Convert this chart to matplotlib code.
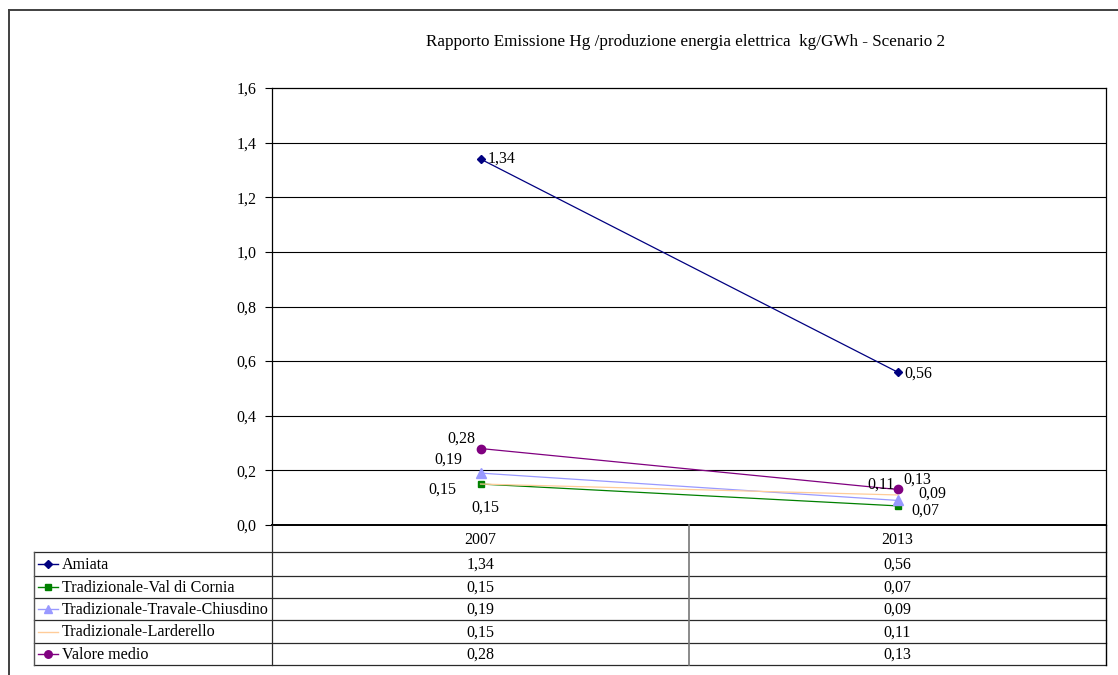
import numpy as np
import matplotlib
matplotlib.use("Agg")
import matplotlib.pyplot as plt
from matplotlib.lines import Line2D

plt.rcParams['font.family'] = ['Liberation Serif', 'DejaVu Serif']

# ---- data ----
title = "Rapporto Emissione Hg /produzione energia elettrica  kg/GWh - Scenario 2"
years = ["2007", "2013"]
series_names = [
    "Amiata",
    "Tradizionale-Val di Cornia",
    "Tradizionale-Travale-Chiusdino",
    "Tradizionale-Larderello",
    "Valore medio",
]
amiata = [1.34, 0.56]
val_di_cornia = [0.15, 0.07]
travale_chiusdino = [0.19, 0.09]
larderello = [0.15, 0.11]
valore_medio = [0.28, 0.13]
y_ticks = [0.0, 0.2, 0.4, 0.6, 0.8, 1.0, 1.2, 1.4, 1.6]

series_values = [amiata, val_di_cornia, travale_chiusdino, larderello, valore_medio]

# ---- styles ----
colors = ["#000080", "#008000", "#9999FF", "#FFCC99", "#800080"]
markers = ["D", "s", "^", None, "o"]
msizes = [4.5, 5, 6.5, 0, 6]
# label offsets (pixels) and alignment for each point: (dx, dy, ha, va)
label_pos = [
    [(7, 0, "left", "center"), (7, -2, "left", "center")],
    [(5, -24, "center", "center"), (14, -5, "left", "center")],
    [(-18, 13, "right", "center"), (21, 7, "left", "center")],
    [(-24, -6, "right", "center"), (-3, 10, "right", "center")],
    [(-5, 10, "right", "center"), (6, 10, "left", "center")],
]

def fmt(v, d=2):
    return f"{v:.{d}f}".replace(".", ",")

W, H = 1118, 675
fig = plt.figure(figsize=(W / 100, H / 100), dpi=100)
fig.patch.set_facecolor("white")

# outer chart frame (top and left edges visible)
frame_kw = dict(color="#404040", lw=1.4, transform=fig.transFigure)
fig.add_artist(Line2D([9 / W, 1.0], [1 - 10 / H, 1 - 10 / H], **frame_kw))
fig.add_artist(Line2D([9 / W, 9 / W], [1 - 10 / H, 0.0], **frame_kw))

fig.text(686 / W, 1 - 42 / H, title, ha="center", va="center", fontsize=12.3)

# ---- plot area ----
L, R, T, B = 272, 1106, 88, 525
ax = fig.add_axes([L / W, 1 - B / H, (R - L) / W, (B - T) / H])
ax.set_xlim(-0.5, len(years) - 0.5)
ax.set_ylim(y_ticks[0], y_ticks[-1])
ax.set_yticks(y_ticks)
ax.set_yticklabels([fmt(t, 1) for t in y_ticks], fontsize=11.5)
ax.set_xticks([])
ax.tick_params(axis="y", direction="out", length=5, width=0.8, color="black", pad=6)
for t in y_ticks[1:-1]:
    ax.axhline(t, color="black", lw=0.8, zorder=1)
for s in ["left", "top", "right"]:
    ax.spines[s].set_color("black")
    ax.spines[s].set_linewidth(0.9)
ax.spines["bottom"].set_color("black")
ax.spines["bottom"].set_linewidth(1.4)

x = np.arange(len(years))
for vals, c, m, ms, lp in zip(series_values, colors, markers, msizes, label_pos):
    ax.plot(x, vals, color=c, lw=0.9, marker=m, markersize=ms,
            markeredgecolor=c, markerfacecolor=c, zorder=3, clip_on=False)
    for xi, v, (dx, dy, ha, va) in zip(x, vals, lp):
        ax.annotate(fmt(v), (xi, v), xytext=(dx, dy), textcoords="offset pixels",
                    ha=ha, va=va, fontsize=11.5, zorder=4)

# ---- data table ----
TL, TB = 34, 665
unit = (R - L) / len(years)
x0 = -0.5 - (L - TL) / unit
tab = fig.add_axes([TL / W, 1 - TB / H, (R - TL) / W, (TB - B) / H])
tab.set_xlim(x0, len(years) - 0.5)
row_edges = [0, 27, 51, 73, 95, 118, 140]
tab.set_ylim(row_edges[-1], row_edges[0])
tab.axis("off")

line_c = "#2a2a2a"
for i, e in enumerate(row_edges[1:]):
    tab.plot([x0, len(years) - 0.5], [e, e], color=line_c, lw=0.9, clip_on=False)
tab.plot([x0, x0], [row_edges[1], row_edges[-1]], color="#555555", lw=1.0, clip_on=False)
tab.plot([-0.5, -0.5], [row_edges[0], row_edges[-1]], color=line_c, lw=0.9, clip_on=False)
for k in range(1, len(years)):
    tab.plot([k - 0.5, k - 0.5], [row_edges[0], row_edges[-1]], color="#777777", lw=1.2, clip_on=False)
tab.plot([len(years) - 0.5] * 2, [row_edges[0], row_edges[-1]], color="black", lw=1.0, clip_on=False)

hdr_y = (row_edges[0] + row_edges[1]) / 2
for xi, yr in zip(x, years):
    tab.text(xi, hdr_y + 1, yr, ha="center", va="center", fontsize=11.5)

key_x0 = x0 + 4 / unit
key_x1 = x0 + 24 / unit
txt_x = x0 + 28 / unit
for r, (name, vals, c, m, ms) in enumerate(zip(series_names, series_values, colors, markers, msizes)):
    yc = (row_edges[r + 1] + row_edges[r + 2]) / 2
    tab.plot([key_x0, key_x1], [yc, yc], color=c, lw=1.0, clip_on=False)
    if m is not None:
        tab.plot([(key_x0 + key_x1) / 2], [yc], marker=m, markersize=ms * 0.9,
                 color=c, clip_on=False)
    tab.text(txt_x, yc + 1, name, ha="left", va="center", fontsize=11.6)
    for xi, v in zip(x, vals):
        tab.text(xi, yc + 1, fmt(v), ha="center", va="center", fontsize=11.5)

fig.savefig("out.png", dpi=100)
